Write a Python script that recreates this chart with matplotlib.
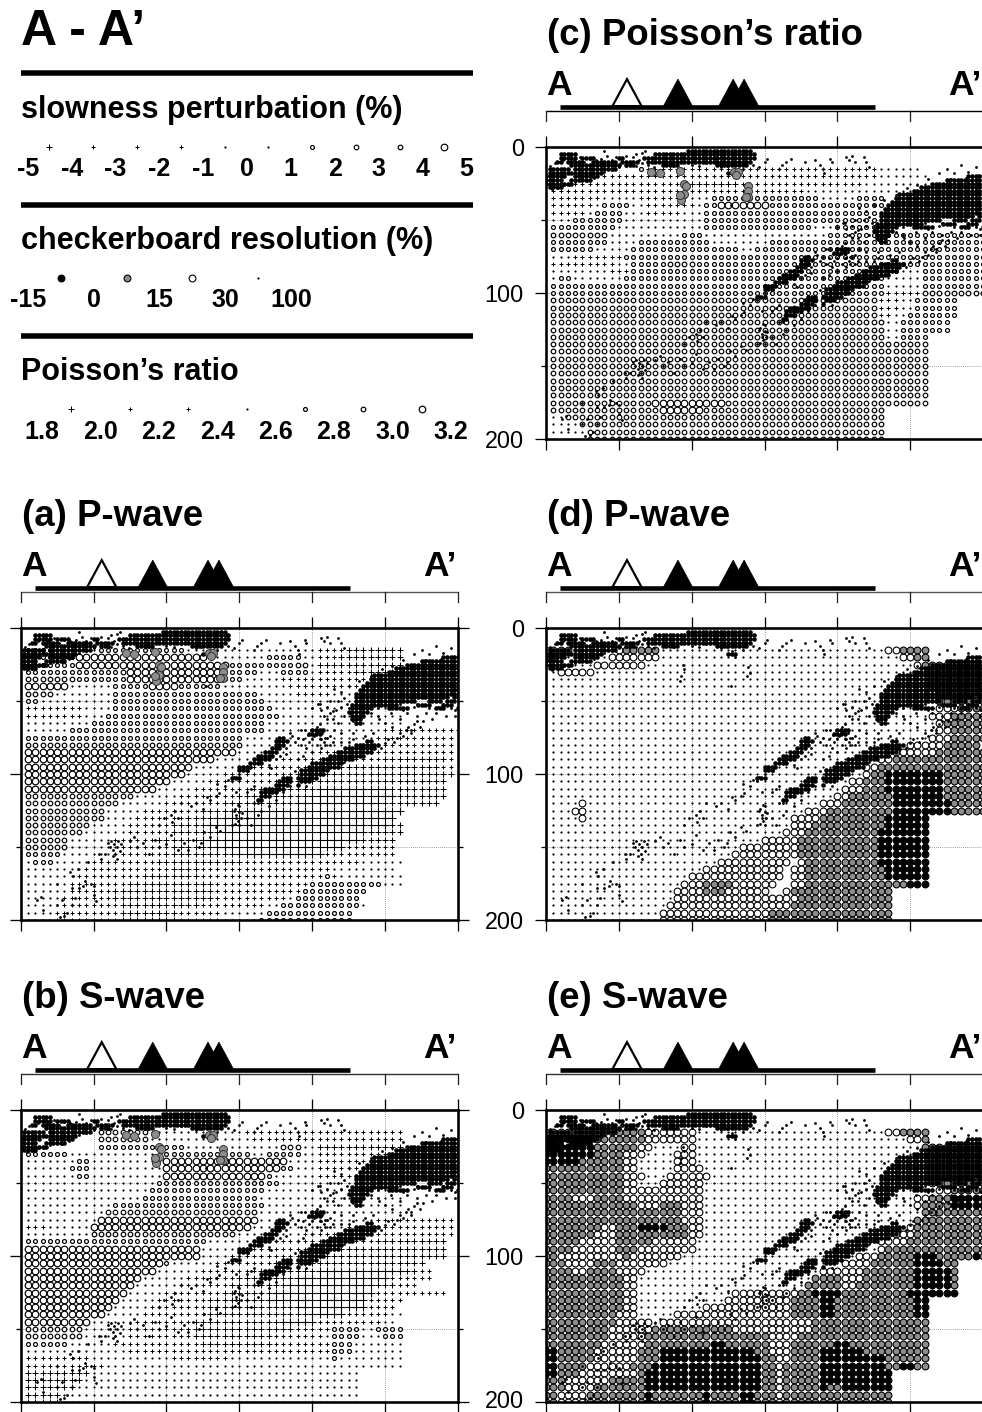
#!/usr/bin/env python
# coding: utf-8
# Cross sections A-A' : tomography grids, checkerboard grids and hypocentres

import matplotlib
matplotlib.use('Agg')
import matplotlib.pyplot as plt
from matplotlib.transforms import ScaledTranslation

plt.rcParams['font.family'] = ['Liberation Sans', 'DejaVu Sans']

W, H = 982, 1412
PT = 0.72  # points per pixel at dpi 100

# grid rows, one string per 5 km of depth, tokens are <symbol><count> from x = 0 in 5 km steps
# _ nothing, . dot, , + # * plus signs (small to big), c o O open circles, w g k checkerboard
PWAVE = ['', '', '',
 '_1 c4 .6 c12 .18 +4 #8',
 '_1 c7 O18 .8 c5 .2 +3 #9',
 '_1 c7 O21 c9 o2 .1 #12',
 '_1 c13 o1 O13 c5 .3 c4 .1 ,1 +4 #8',
 '_1 o7 c7 O13 c3 .5 ,1 +16',
 '_1 O6 .6 c5 O4 c6 .9 ,12',
 '_1 o4 .8 c20 .5 ,5 .10',
 '_1 c2 .10 c21 .20',
 '_1 ,8 .4 c22 .18',
 '_1 ,8 .3 c24 .17',
 '_1 .9 c24 .19',
 '_1 .6 c27 .16 ,6 +9',
 '_1 c30 .18 ,5 +6',
 '_1 o30 .16 ,4 +9',
 '_1 O29 .10 ,6 +14',
 '_1 O26 .9 ,5 +9 #9 +1',
 '_1 O23 .7 ,6 +7 #14 +2',
 '_1 O22 .5 ,5 +5 #22',
 '_1 O20 .5 ,4 +6 #23',
 '_1 O18 .5 ,3 +6 #8 *10 #8',
 '_1 o15 .6 ,3 +5 #10 *12 #7',
 '_1 o13 .6 ,3 +5 #10 *12 #8',
 '_1 o11 .5 ,4 +4 #6 *22',
 '_1 o11 .4 ,3 +4 #4 *25',
 '_1 o9 .5 ,3 +3 #5 *25 #2',
 '_1 o8 .6 ,2 +4 #7 *20 #5',
 '_1 o6 .6 ,3 +3 #6 *22 #5',
 '_1 o6 .7 ,3 +4 #6 *18 +7',
 '_1 c5 .7 ,3 +4 #10 *12 +10',
 '_1 .1 c3 .5 ,4 +5 #12 +10 ,6 .6',
 '_1 .8 ,4 +8 #4 +10 ,8 .9',
 '_1 .7 ,4 +5 #8 +10 ,7 c1 ,1 .9',
 '_1 .6 ,4 +4 #12 +7 ,6 c10 .3',
 '_1 .6 ,3 +3 #14 +6 ,6 c9',
 '_1 .5 ,3 +4 #14 +5 ,5 .1 c9',
 '_1 .5 ,3 +5 #11 +5 ,4 .2 c11 .1',
 '_1 .4 ,3 +6 #8 ,6 .6 c12',
 '_1 .4 ,3 +6 #8 ,6 .5 c13',
]
SWAVE = ['', '', '',
 '_11 o7 .13 ,11 +11',
 '_11 o7 .14 +21',
 '_11 c12 .13 o3 .2 #12',
 '_1 c6 .13 c12 .2 c5 .2 ,1 +11',
 '_1 .7 c2 .10 O17 .4 +12',
 '_1 .6 c3 .10 O16 c2 .3 ,12',
 '_1 .7 c2 .10 O14 c1 .6 ,6 .6',
 '_1 .18 c17 .17',
 '_1 .17 c16 .19',
 '_1 .16 c16 .20',
 '_1 .12 c21 .19',
 '_1 .11 o21 .20',
 '_1 .10 O22 .16 ,5 +6',
 '_1 ,3 .6 O22 .13 ,5 +10',
 '_1 .9 o20 .9 ,6 +15',
 '_1 c25 .9 ,6 +8 #10',
 '_1 O24 .6 ,6 +7 #15',
 '_1 O24 .4 ,4 +6 #20',
 '_1 O19 c1 .6 ,3 +5 #21',
 '_1 O18 .6 ,3 +5 #8 *12 #2 +2',
 '_1 O16 .6 ,3 +4 #8 *13 +6',
 '_1 O15 .6 ,3 +4 #8 *12 #3 +3',
 '_1 O14 .5 ,4 +4 #7 *14 +6 ,4',
 '_1 O13 .5 ,4 +3 #8 *14 +5',
 '_1 O12 .5 ,4 +4 #12 *10 +3 ,1',
 '_1 O11 .5 ,4 +5 #14 *5 +3 ,3 .2',
 '_1 O9 .6 ,4 +4 #12 *5 +6 ,3 .2',
 '_1 o8 .6 ,4 +5 #14 +3 ,2 c4 .2 c4',
 '_1 o8 .6 ,3 +6 #11 +3 ,4 .1 c4 .3 c3',
 '_1 c6 .6 ,3 +9 #10 +4 ,4 c3 .7',
 '_1 .14 ,8 +9 ,11 c3 .7',
 '_1 ,9 .11 ,8 .14 c1 .9',
 '_1 +11 .41',
 '_1 #9 .37',
 '_1 #8 .38',
 '_1 #7 .39',
 '_1 #5 .41',
 '_1 #5 .41',
]
POISSON = ['', '', '',
 '_13 c1 ,4 +28 .6',
 '_8 ,6 +26 ,6 .7',
 '_4 ,5 +10 #8 +11 ,6 .9',
 '_1 ,3 +15 ,5 +8 ,4 .16',
 '_1 ,7 .5 ,5 +2 .3 c15 .5 c4',
 '_1 ,6 .1 c4 .2 +7 .1 c2 O7 c16',
 '_1 ,5 .1 c4 .3 +5 .3 c24',
 '_1 .3 c7 .11 c24',
 '_1 c9 .12 c15 .3 c7',
 '_1 o8 .10 c3 .17 c22',
 '_1 c8 .4 c10 .8 c30',
 '_1 c6 .5 c15 .2 c32',
 '_1 .3 ,7 c50',
 '_1 ,9 .2 c5 o4 c40',
 '_1 .8 ,3 c37 .3 c9',
 '_1 .1 c2 .7 c36 .5 c9',
 '_1 c46 .5 c9',
 '_1 c46 ,5 o9',
 '_1 o45 ,3 .2 c6',
 '_1 o45 ,3 .2 c6',
 '_1 o45 ,2 .2 c7',
 '_1 o46 .2 c7',
 '_1 o46 .2 c7',
 '_1 o46 .2 c4',
 '_1 o52', '_1 o52', '_1 o52', '_1 o52', '_1 o52', '_1 o52', '_1 o52', '_1 o52',
 '_1 o14 O10 o28',
 '_1 o15 O6 o25',
 '_1 .2 o44',
 '_1 .4 o42',
 '_1 .5 o41',
 '_6 o41',
]
CHECK_P = ['', '', '',
 'g4 .6 w1 g5 .31 w2 g4',
 'g2 .7 w7 .33 w2 g2',
 '_1 .6 w7 .37 w1 g9',
 '_1 .1 w5 .46 g8',
 '_1 .52 g8',
 '_1 .52 g8',
 '_1 .53 g7',
 '_1 .53 g7',
 '_1 .53 w3 g4',
 '_1 .52 w3 g5',
 '_1 .53 w1 g6',
 '_1 .53 w2 g5',
 '_1 .52 w3 g5',
 '_1 .49 w5 g5',
 '_1 .46 w7 g7',
 '_1 .45 w2 g13',
 '_1 .43 w2 g15',
 '_1 .43 w1 g2 k8 g6',
 '_1 .41 w2 g3 k8 g6',
 '_1 .40 w3 g3 k8 g6',
 '_1 .39 w2 g6 k7 g6',
 '_1 .4 w1 .32 w3 g7 k8 g5',
 '_1 .3 w2 .30 w3 g9 k8 g5',
 '_1 .4 w1 .28 w4 g9 k6',
 '_1 .33 w3 g10 k6',
 '_1 .32 w3 g10 k7',
 '_1 .29 w5 g11 k7',
 '_1 .26 w8 g11 k7',
 '_1 .25 w9 g11 k7',
 '_1 .23 w10 _1 w1 g10 k7',
 '_1 .21 w11 _1 w2 g11 k6',
 '_1 .19 w13 _1 w2 g11 k6',
 '_1 .18 w3 g4 w6 _2 w2 g14 k3',
 '_1 .17 w4 g3 w6 _2 w1 g14',
 '_1 .17 w17 g13',
 '_1 .16 w17 g14',
 '_1 .15 w15 g17',
 '_1 .15 w15 g17',
]
CHECK_S = ['', '', '',
 'g14 w7 .26 w2 g4',
 'k7 g7 w7 .29 w2 g1',
 'k7 g6 w2 .4 w2 .31 g9',
 'k7 g4 w3 .4 w3 .32 g8',
 'k5 g6 w2 .5 w3 .32 g8',
 'g11 w2 .5 w4 .31 g8',
 'g11 w3 .3 w6 .30 g8',
 'g11 w2 .3 w6 .31 g8',
 'g11 w11 .32 w2 g5',
 'g4 w3 g4 w11 .29 w2 g3 k5',
 'g13 w3 g3 w3 .29 w1 g4 k5',
 'g19 w3 .30 g9',
 'g19 w3 .29 g10',
 'g8 w2 g3 k4 g3 w2 .28 w1 g10',
 'g7 w3 g10 w2 .25 w4 g10',
 'g5 w5 g5 w6 .25 w4 g11',
 'g4 w6 g3 w8 .25 w1 g14',
 'g2 w9 g1 w7 .24 w3 g5 k3 g5 k1 g1',
 'g3 w4 g3 w7 .24 w4 g6 k4 g2',
 'g4 w2 g4 w4 .24 w6 g7 k5 g1',
 'g11 w2 .24 g4 w3 g7 k5 g1',
 'g11 w2 .23 g5 w2 g8 k5 g1',
 'w1 g10 w2 .13 w9 g2 k4 g9 k7',
 'g11 w2 .12 w9 g4 k2 g11 k2',
 'g11 w2 .9 w12 g4 k2 g11 k2',
 'g10 w3 .5 w16 g4 k2 g11 k2',
 'g10 w5 .1 w21 g16',
 'g9 w6 g11 w11 g16',
 'g9 w5 g17 w4 g18',
 'g8 w6 g9 k2 g6 w3 g6 k2 g11',
 'k2 g5 w6 g3 k13 g2 w3 g4 k6 g9',
 'k2 g5 w6 g3 k14 g2 w2 g4 k9 g6',
 'k2 g4 w6 g3 k15 g2 w1 g5 k9 g2 k2 g2',
 'k2 g3 w8 g1 k16 g2 w1 g5 k10',
 'g3 w6 g5 k16 g2 w1 g5 k10',
 'g3 w4 g7 k16 g2 w1 g5 k1 g2 k7',
 'g2 w4 g8 k1 g7 k1 g4 k2 g3 w1 g15',
 'g2 w4 g8 k1 g7 k1 g4 k2 g3 w1 g15',
]

# areas too dense to separate events, same tokens with one row and column per 2.5 km
HYPO_DENSE = ['',
 '_39 x18',
 '_4 x5 _21 x28',
 '_4 x5 _1 x4 _6 x2 _5 x31',
 '_3 x2 _1 x5 _2 x7 _1 x5 _2 x29',
 '_7 x14 _1 x3 _7 x5 _10 x9',
 '_1 x6 _1 x12',
 '_1 x15 _34 x3',
 'x6 _2 x7 _101 x5',
 'x5 _2 x6 _97 x11',
 'x8 _98 x15',
 '_1 x4 _98 x18',
 '_101 x20',
 '_97 x24',
 '_96 x25',
 '_95 x26',
 '_94 x27',
 '_93 x28',
 '_92 x29',
 '_92 x26 _1 x2',
 '_92 x17 _3 x4 _1 x3',
 '_91 x13 _5 x4 _3 x3',
 '_91 x6 _4 x6 _7 x3 _3 x1',
 '_90 x6',
 '_91 x4',
 '_91 x3',
 '_92 x2',
 '',
 '_80 x4',
 '_79 x4',
 '_71 x2',
 '_70 x4 _21 x2',
 '_70 x3 _19 x7',
 '_69 x3 _17 x9',
 '_67 x4 _16 x10',
 '_65 x5 _15 x10',
 '_64 x5 _14 x9',
 '_63 x4 _13 x9',
 '_60 x4 _15 x9',
 '_60 x3 _14 x8',
 '_77 x7',
 '_58 x3 _11 x3 _1 x6',
 '_71 x4 _2 x3',
 '_70 x4 _2 x1',
 '_67 x6',
 '_66 x5',
 '_66 x3',
 '_65 x2',
]

# single hypocentres
HYPO_X = [60, 61, 62, 63, 64, 65, 66, 67, 68, 69, 63, 66, 58, 54, 55,
          34, 36, 39, 44, 35, 40, 43, 48, 50, 37, 35, 32, 28, 11, 14, 15, 25, 27, 30, 25, 50, 52, 46,
          75, 78, 80, 84, 88, 92, 95, 100, 103, 108, 112, 115, 118, 122, 124, 126, 130, 134, 137, 103, 106, 108, 104, 95, 98,
          110, 117, 120, 125, 128, 130, 134, 136, 140, 145, 148, 150, 146, 148, 150, 152, 145, 155, 158, 163, 165, 160, 170, 155, 158,
          172, 180, 185, 188, 190, 182, 178, 194, 185, 190, 195, 205, 210, 214, 212, 205, 200, 210, 215, 220, 225, 228, 218, 222, 225,
          245, 250, 255, 260, 265, 268, 272, 280, 285, 290, 295, 298, 300,
          275, 280, 285, 290, 295, 270, 262, 255, 248, 240, 232, 225, 220, 215,
          142, 146, 150, 152, 160, 162, 165, 168, 178, 185, 188, 190, 191, 195, 196, 206, 208, 210, 212, 218, 220, 222,
          130, 128, 126, 94, 95, 93, 92, 139, 140, 138, 127,
          147, 148, 149, 150, 151, 147, 149, 199, 201, 203, 205, 207, 209, 197, 204, 208,
          3, 6, 9, 12, 16, 19, 23, 26, 30, 34, 38, 40, 42, 45, 48, 52, 55, 57, 60, 62, 64, 66, 68, 62, 66, 70, 74,
          4, 8, 12, 16, 20, 25, 28, 33, 36, 40, 45, 50, 55, 80, 88, 100, 105, 110, 118, 120, 124, 135, 130,
          229, 230, 235, 240, 248, 256, 262, 270, 278, 288, 296, 300, 245, 250, 258, 265, 272, 280, 288, 295, 300, 298,
          160, 163, 175, 180, 196, 200, 205, 215, 222, 230, 235, 240, 200, 206, 212, 220, 228, 236, 242,
          150, 146, 142, 135, 156, 164, 170, 175, 182,
          256, 258, 260, 262, 264, 266, 268, 270, 272, 274, 252, 250, 247,
          186, 188, 192, 194, 196, 198, 200, 203, 206, 209, 212, 214, 192,
          204, 206, 208, 210, 212, 214, 216, 218, 220, 222, 224, 226, 228, 230,
          240, 246, 254, 262, 270, 278, 286, 292, 298, 282, 276, 260]
HYPO_Z = [147, 150, 146, 152, 148, 155, 150, 146, 153, 148, 156, 158, 155, 155, 158,
          167, 170, 165, 173, 178, 178, 177, 175, 177, 185, 190, 195, 186, 186, 184, 193, 190, 198, 197, 175, 183, 187, 160,
          146, 143, 150, 147, 155, 145, 150, 148, 142, 152, 147, 152, 145, 150, 147, 140, 143, 136, 139, 128, 125, 130, 133, 135, 130,
          120, 122, 120, 124, 116, 118, 115, 113, 108, 105, 112, 122, 125, 130, 135, 127, 135, 130, 135, 128, 125, 120, 122, 112, 110,
          96, 103, 108, 98, 90, 86, 88, 88, 72, 75, 70, 66, 62, 57, 50, 52, 55, 75, 70, 72, 78, 72, 65, 60, 55,
          60, 65, 68, 62, 58, 70, 60, 55, 58, 52, 55, 60, 45,
          15, 18, 12, 17, 14, 18, 22, 26, 28, 33, 36, 40, 44, 42,
          12, 14, 10, 8, 15, 12, 10, 8, 10, 9, 12, 15, 18, 8, 10, 7, 9, 6, 10, 7, 10, 14,
          12, 16, 18, 25, 28, 33, 36, 27, 31, 33, 40,
          124, 128, 132, 126, 130, 134, 121, 70, 74, 68, 76, 72, 75, 73, 71, 78,
          13, 11, 10, 9, 7, 9, 7, 10, 8, 9, 8, 3, 6, 9, 7, 8, 6, 10, 7, 5, 9, 4, 3, 13, 11, 12, 14,
          29, 28, 26, 26, 24, 21, 23, 21, 18, 17, 16, 14, 13, 12, 13, 12, 13, 11, 12, 14, 13, 15, 20,
          60, 52, 42, 38, 35, 30, 28, 25, 22, 21, 20, 24, 55, 52, 50, 50, 52, 50, 48, 45, 50, 42,
          108, 120, 118, 112, 108, 102, 100, 95, 92, 88, 85, 83, 85, 82, 80, 78, 76, 74, 72,
          100, 102, 104, 107, 98, 92, 94, 90, 82,
          78, 75, 72, 74, 70, 68, 72, 66, 64, 68, 76, 79, 82,
          74, 78, 80, 76, 82, 78, 76, 80, 76, 80, 74, 78, 70,
          52, 56, 60, 54, 58, 62, 56, 50, 54, 48, 52, 58, 64, 66,
          58, 62, 58, 56, 54, 58, 54, 60, 56, 62, 64, 52]

# low frequency events, grey circles
LOWFREQ_X = [72, 78, 92, 129, 132, 130.5, 95, 96, 95, 93, 92, 139, 139, 138.5, 137]
LOWFREQ_Z = [17, 17.5, 16.5, 17, 17, 19.5, 25, 27, 32, 36.5, 33, 27, 30, 34, 34]

VOLCANO_ACTIVE = [90.6, 128.5, 136]
VOLCANO_OTHER = [55.6]

SLOWNESS_LABELS = ['-5', '-4', '-3', '-2', '-1', '0', '1', '2', '3', '4', '5']
SLOWNESS_SYMBOLS = ['#', '+', '+', ',', '.', '.', 'c', 'o', 'o', 'O']
CHECK_LABELS = ['-15', '0', '15', '30', '100']
CHECK_SYMBOLS = ['k', 'g', 'w', '.']
POISSON_LABELS = ['1.8', '2.0', '2.2', '2.4', '2.6', '2.8', '3.0', '3.2']
POISSON_SYMBOLS = ['#', '+', ',', '.', 'c', 'o', 'O']

# symbol: marker, diameter px, line px, face
SYMBOLS = {
    '.': ('o', 2.2, 0, 'black'),
    ',': ('+', 3.6, 1.0, 'black'),
    '+': ('+', 5.0, 1.0, 'black'),
    '#': ('+', 6.4, 1.0, 'black'),
    '*': ('+', 8.0, 1.1, 'black'),
    'c': ('o', 3.9, 1.2, 'white'),
    'o': ('o', 4.6, 1.2, 'white'),
    'O': ('o', 6.6, 1.2, 'white'),
    'w': ('o', 6.8, 1.1, 'white'),
    'g': ('o', 6.8, 1.1, '#8c8c8c'),
    'k': ('o', 6.8, 1.1, 'black'),
}

# panel: rows, title, box left/top/bottom px, has depth labels, has low frequency events
PANELS = [
    (PWAVE, '(a) P-wave', 20.7, 628, 920, False, True, 458, '#555555'),
    (SWAVE, '(b) S-wave', 20.7, 1110, 1402, False, True, 458, '#333333'),
    (POISSON, '(c) Poisson\u2019s ratio', 546, 147, 439, True, True, 983, 'black'),
    (CHECK_P, '(d) P-wave', 546, 628, 920, True, False, 983, '#555555'),
    (CHECK_S, '(e) S-wave', 546, 1110, 1402, True, False, 983, '#333333'),
]


def parse_rows(rows, step=5):
    cells = {}
    for j, row in enumerate(rows):
        i = 0
        for token in row.split():
            n = int(token[1:])
            if token[0] != '_':
                cells.setdefault(token[0], [[], []])
                cells[token[0]][0].extend(step * k for k in range(i, i + n))
                cells[token[0]][1].extend([step * j] * n)
            i += n
    return cells


def draw_symbol(ax, x, y, sym, zorder=3, clip=True):
    marker, d, lw, face = SYMBOLS[sym]
    if marker == '+':
        ax.scatter(x, y, s=(d * PT) ** 2, marker='+', c='black', linewidths=lw * PT, zorder=zorder, clip_on=clip)
    elif lw == 0:
        ax.scatter(x, y, s=(d * PT) ** 2, marker='o', c='black', linewidths=0, zorder=zorder, clip_on=clip)
    else:
        ax.scatter(x, y, s=(d * PT) ** 2, marker='o', facecolors=face, edgecolors='black', linewidths=lw * PT, zorder=zorder, clip_on=clip)


fig = plt.figure(figsize=(W / 100, H / 100), dpi=100)
dense = parse_rows(HYPO_DENSE, step=2.5)['x']

for rows, title, left, top, bottom, labelled, lowfreq, right, stripcol in PANELS:
    ax = fig.add_axes([left / W, 1 - bottom / H, (right - left) / W, (bottom - top) / H])
    ax.set_xlim(0, 300)
    ax.set_ylim(200, 0)
    ax.set_xticks(range(0, 301, 50))
    ax.set_yticks([0, 100, 200])
    ax.set_yticks([50, 150], minor=True)
    ax.grid(True, which='both', color='#444444', linestyle=(0, (1, 2)), linewidth=0.5, zorder=1)
    ax.set_axisbelow(True)
    ax.tick_params(axis='x', which='major', top=True, bottom=True, length=11 * PT, width=1.3 * PT, labelbottom=False)
    ax.tick_params(axis='y', which='major', left=True, right=True, length=11 * PT, width=1.3 * PT, labelleft=labelled, labelsize=16.8, pad=8)
    ax.tick_params(axis='y', which='minor', left=True, right=True, length=5 * PT, width=1.3 * PT)
    if labelled:
        for label in ax.get_yticklabels():
            label.set_verticalalignment('center_baseline')
        # the lowest label sits against the bottom of the picture
        if bottom > 1400:
            low = ax.get_yticklabels()[-1]
            low.set_transform(low.get_transform() + ScaledTranslation(0, 3 * PT / 72, fig.dpi_scale_trans))
    for spine in ax.spines.values():
        spine.set_linewidth(2.6 * PT)
        spine.set_zorder(8)

    # order matters, circles first so plus signs and dots are not hidden
    cells = parse_rows(rows)
    for sym in ['w', 'g', 'k', 'O', 'o', 'c', '*', '#', '+', ',', '.']:
        if sym in cells:
            draw_symbol(ax, cells[sym][0], cells[sym][1], sym)

    ax.scatter(dense[0], dense[1], s=(4.6 * PT) ** 2, c='black', linewidths=0, zorder=5)
    ax.scatter(HYPO_X, HYPO_Z, s=(2.8 * PT) ** 2, c='black', linewidths=0, zorder=5)
    if lowfreq:
        ax.scatter(LOWFREQ_X, LOWFREQ_Z, s=(8 * PT) ** 2, facecolors='#8c8c8c', edgecolors='#333333',
                   linewidths=0.7, zorder=6)

    # section strip above the box
    ax.plot([0, 300], [-25, -25], color=stripcol, lw=1.4 * PT, clip_on=False, solid_capstyle='butt')
    for tick in range(0, 301, 50):
        ax.plot([tick, tick], [-25, -18], color='#222222', lw=1.3 * PT, clip_on=False)
    for v in VOLCANO_OTHER:
        ax.fill([v - 10, v, v + 10], [-28, -46.5, -28], facecolor='white', edgecolor='black', lw=2.2 * PT, clip_on=False, zorder=4)
    for v in VOLCANO_ACTIVE:
        ax.fill([v - 10, v, v + 10], [-28, -46.5, -28], facecolor='black', edgecolor='black', lw=0.5, clip_on=False, zorder=4)
    ax.plot([9.6, 226], [-27.7, -27.7], color='black', lw=4.6 * PT, clip_on=False, solid_capstyle='butt', zorder=5)

    fig.text(left / W, 1 - (top - 52) / H, 'A', fontsize=25.5, fontweight='bold', ha='left', va='baseline')
    fig.text((left + 402) / W, 1 - (top - 52) / H, 'A\u2019', fontsize=25.5, fontweight='bold', ha='left', va='baseline')
    fig.text((left + 1) / W, 1 - (top - 102) / H, title, fontsize=26.4, fontweight='bold', ha='left', va='baseline')

# legend column, drawn in picture pixels
leg = fig.add_axes([0, 0, 1, 1], zorder=10)
leg.set_xlim(0, W)
leg.set_ylim(H, 0)
leg.axis('off')
leg.patch.set_alpha(0)

for y in [73, 205, 336]:
    leg.plot([21, 473], [y, y], color='black', lw=5.5 * PT, solid_capstyle='butt')

leg.text(21, 45, 'A - A\u2019', fontsize=36, fontweight='bold', ha='left', va='baseline')
leg.text(21, 118, 'slowness perturbation (%)', fontsize=22, fontweight='bold', ha='left', va='baseline')
leg.text(21, 249, 'checkerboard resolution (%)', fontsize=22, fontweight='bold', ha='left', va='baseline')
leg.text(21, 380, 'Poisson\u2019s ratio', fontsize=22, fontweight='bold', ha='left', va='baseline')

for i, label in enumerate(SLOWNESS_LABELS):
    leg.text(28 + 43.8 * i, 176, label, fontsize=18, fontweight='bold', ha='center', va='baseline')
for i, sym in enumerate(SLOWNESS_SYMBOLS):
    draw_symbol(leg, 49.5 + 43.8 * i, 146.7, sym)

for i, label in enumerate(CHECK_LABELS):
    leg.text(28 + 65.7 * i, 307, label, fontsize=18, fontweight='bold', ha='center', va='baseline')
for i, sym in enumerate(CHECK_SYMBOLS):
    draw_symbol(leg, 61 + 65.7 * i, 278, sym)

for i, label in enumerate(POISSON_LABELS):
    leg.text(42 + 58.4 * i, 439, label, fontsize=18, fontweight='bold', ha='center', va='baseline')
for i, sym in enumerate(POISSON_SYMBOLS):
    draw_symbol(leg, 71.5 + 58.4 * i, 409, sym)

fig.savefig('out.png', dpi=100)
